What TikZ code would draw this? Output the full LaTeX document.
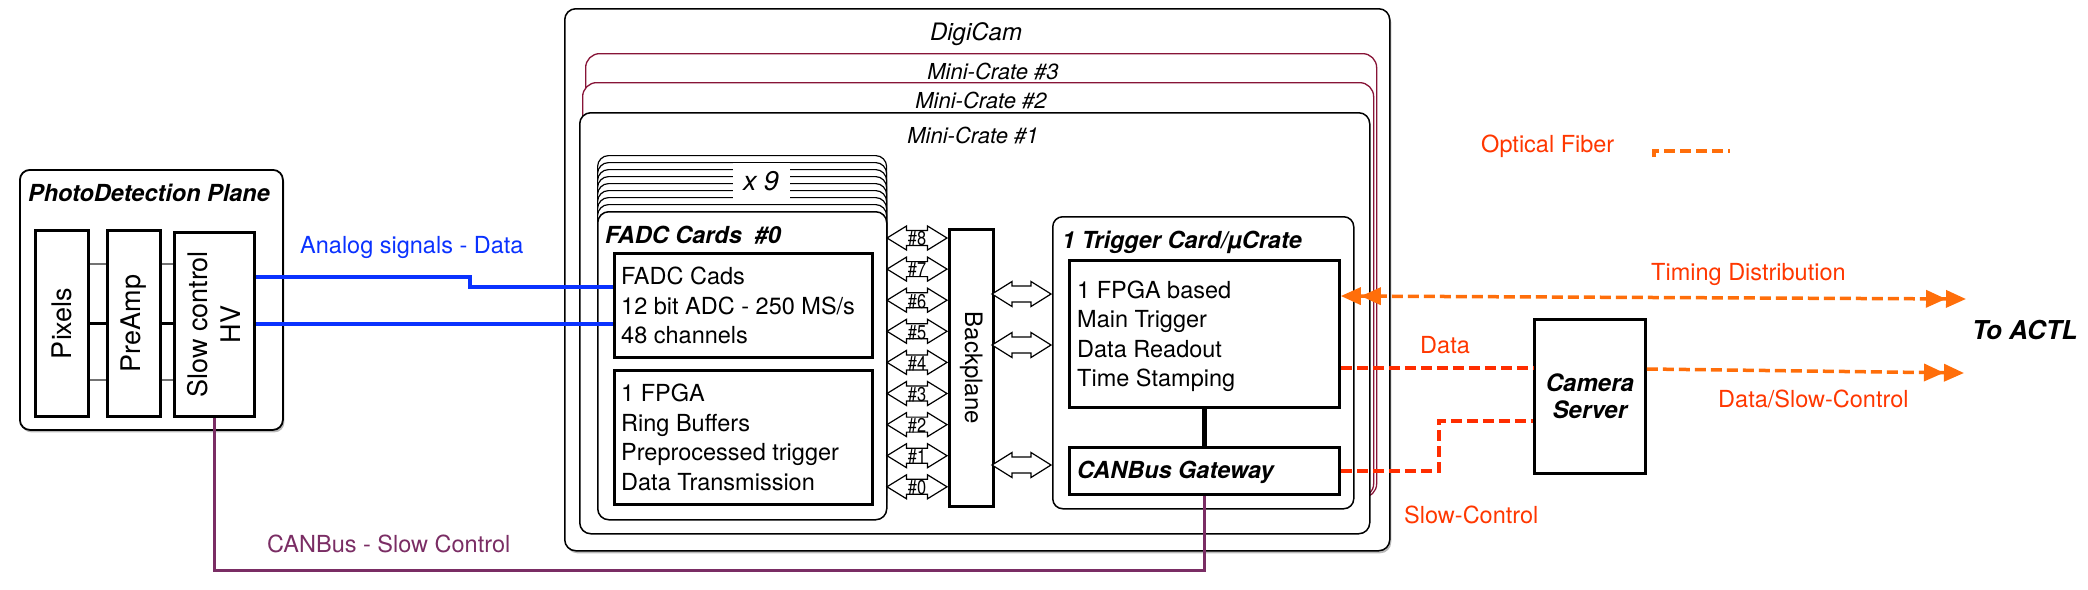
\documentclass[tikz,border=0pt]{standalone}
\usepackage{fontspec}
\setmainfont{TeX Gyre Heros}
\newfontfamily\narrowf{TeX Gyre Heros}[FakeStretch=0.82]
\usetikzlibrary{arrows.meta,shadows}
\definecolor{bluel}{RGB}{10,50,255}
\definecolor{plumc}{RGB}{122,45,100}
\definecolor{crateRed}{RGB}{135,20,55}
\definecolor{fibor}{RGB}{255,110,10}
\definecolor{fibred}{RGB}{255,45,0}
\definecolor{txtred}{RGB}{255,55,0}
\tikzset{dtri/.tip={Triangle[length=20pt,width=17pt,sep=0pt]Triangle[length=20pt,width=17pt]}}
\begin{document}
\begin{tikzpicture}[x=1pt,y=-1pt,
  every node/.style={inner sep=0pt},
  lbl/.style={font=\fontsize{23.5}{28}\selectfont, anchor=base west},
  bit/.style={font=\fontsize{23.5}{28}\selectfont\bfseries\itshape},
  itl/.style={font=\fontsize{22}{26}\selectfont\itshape, anchor=base},
  rbox/.style={draw, rounded corners=11pt, fill=white, line width=1.5pt, anchor=north west},
  ibox/.style={draw, line width=2.8pt, fill=white, anchor=north west},
  shad/.style={drop shadow={shadow xshift=1.5pt,shadow yshift=-2.5pt,opacity=.55}},
  fib/.style={line width=3.5pt, dash pattern=on 11pt off 5pt},
  sdbl/.pic={\draw[line width=1.2pt, fill=white, line join=miter]
     (-30,0) -- (-10.5,12) -- (-10.5,7.5) -- (10.5,7.5) -- (10.5,12) -- (30,0)
     -- (10.5,-12) -- (10.5,-7.5) -- (-10.5,-7.5) -- (-10.5,-12) -- cycle;},
  bdbl/.pic={\draw[line width=1.2pt, fill=white, line join=miter]
     (-29.5,0) -- (-9.5,12.5) -- (-9.5,8) -- (9.5,8) -- (9.5,12.5) -- (29.5,0)
     -- (9.5,-12.5) -- (9.5,-8) -- (-9.5,-8) -- (-9.5,-12.5) -- cycle;},
]
\useasboundingbox (0,0) rectangle (2088,589);

% DigiCam and mini-crates
\node[rbox, shad, minimum width=825pt, minimum height=542pt] (digicam) at (564,8) {};
\node[itl, font=\fontsize{24}{28}\selectfont\itshape] (digicamT) at (976,40.5) {DigiCam};
\node[rbox, draw=crateRed, line width=1.3pt, rounded corners=14pt, minimum width=791pt, minimum height=444pt] (mc3) at (585,53) {};
\node[itl] (mc3T) at (993,79) {Mini-Crate \#3};
\node[rbox, draw=crateRed, line width=1.3pt, rounded corners=14pt, minimum width=791pt, minimum height=415pt] (mc2) at (582,82) {};
\node[itl] (mc2T) at (981,108) {Mini-Crate \#2};
\node[rbox, minimum width=790pt, minimum height=421pt] (mc1) at (579,112) {};
\node[itl] (mc1T) at (973,143) {Mini-Crate \#1};

% FADC card stack
\foreach \k in {8,...,1}
  \node[rbox, line width=1.2pt, minimum width=289pt, minimum height=308pt] (card\k) at (597,{211-7*\k}) {};
\node[fill=white, minimum width=57pt, minimum height=37pt, font=\fontsize{27}{30}\selectfont\itshape] (x9) at (761,181) {x 9};
\node[rbox, minimum width=289pt, minimum height=308pt] (card0) at (597,211) {};
\node[bit, anchor=base west] (cardT) at (605,243.5) {FADC Cards~~\#0};
\node[ibox, minimum width=258pt, minimum height=104pt] (adc) at (613,252) {};
\node[ibox, minimum width=258pt, minimum height=134pt] (fpga) at (613,369) {};
\node[lbl] (adc0) at (621,284.5) {FADC Cads};
\node[lbl] (adc1) at (621,314) {12 bit ADC - 250 MS/s};
\node[lbl] (adc2) at (621,343.5) {48 channels};
\node[lbl] (fp0) at (621,401.5) {1 FPGA};
\node[lbl] (fp1) at (621,431.2) {Ring Buffers};
\node[lbl] (fp2) at (621,460.9) {Preprocessed trigger};
\node[lbl] (fp3) at (621,490.6) {Data Transmission};

% Backplane
\node[draw, line width=2.5pt, fill=white, anchor=north west, minimum width=44pt, minimum height=277pt] (bp) at (948,228) {};
\node[rotate=-90, font=\fontsize{24}{28}\selectfont] (bpT) at (bp.center) {Backplane};

% card links
\foreach \n in {0,...,8} {
  \pic at (917,{238+31.1*(8-\n)}) {sdbl};
  \node[font=\narrowf\fontsize{20}{22}\selectfont] (lk\n) at (917,{239+31.1*(8-\n)}) {\#\n};
}

% Trigger card
\node[rbox, rounded corners=10pt, minimum width=301pt, minimum height=292pt] (trig) at (1052,216) {};
\node[bit, anchor=base west] (trigT) at (1062,248.5) {1 Trigger Card/µCrate};
\node[ibox, minimum width=270pt, minimum height=147pt] (trigIn) at (1068,259) {};
\node[lbl] (tr0) at (1077,298.5) {1 FPGA based};
\node[lbl] (tr1) at (1077,327.8) {Main Trigger};
\node[lbl] (tr2) at (1077,357.1) {Data Readout};
\node[lbl] (tr3) at (1077,386.4) {Time Stamping};
\node[ibox, minimum width=270pt, minimum height=47pt] (gw) at (1068,446) {};
\node[bit, anchor=base west] (gwT) at (1077,478.5) {CANBus Gateway};
\draw[line width=5pt] (trigIn.south) -- (gw.north);
\foreach \yy in {294,345,465} \pic at (1021.5,\yy) {bdbl};

% PhotoDetection Plane
\node[rbox, shad, line width=1.8pt, rounded corners=10pt, minimum width=263pt, minimum height=260pt] (pdp) at (19,169) {};
\node[bit, anchor=base] (pdpT) at (149,201.5) {PhotoDetection Plane};
\node[ibox, minimum width=53pt, minimum height=186pt] (pix) at (34,229) {};
\node[ibox, minimum width=53pt, minimum height=186pt] (pre) at (106,229) {};
\node[ibox, minimum width=80pt, minimum height=184pt] (sc) at (173,231) {};
\node[rotate=90, font=\fontsize{27}{32}\selectfont] (pixT) at (pix.center) {Pixels};
\node[rotate=90, font=\fontsize{27}{32}\selectfont] (preT) at (pre.center) {PreAmp};
\node[rotate=90, align=center, font=\fontsize{27}{33}\selectfont] (scT) at (sc.center) {Slow control\\HV};
\coordinate (pa1) at ([yshift=-35pt]pix.north east);
\coordinate (pa3) at ([yshift=-151pt]pix.north east);
\coordinate (pb1) at ([yshift=-35pt]pre.north east);
\coordinate (pb3) at ([yshift=-151pt]pre.north east);
\draw[line width=1.2pt, black!55] (pa1) -- (pa1 -| pre.west);
\draw[line width=1.2pt, black!55] (pa3) -- (pa3 -| pre.west);
\draw[line width=2.2pt] (pix.east) -- (pre.west);
\draw[line width=1.2pt, black!55] (pb1) -- (pb1 -| sc.west);
\draw[line width=1.2pt, black!55] (pb3) -- (pb3 -| sc.west);
\draw[line width=2.2pt] (pre.east) -- (pre.east -| sc.west);

% Analog signals
\coordinate (bu1) at ([yshift=-46pt]sc.north east);
\coordinate (bu2) at ([yshift=-35pt]adc.north west);
\draw[bluel, line width=4pt] (bu1) -- ++(214,0) |- (bu2);
\draw[bluel, line width=4pt] (sc.east) -- (sc.east -| adc.west);
\node[lbl, text=bluel] (analogT) at (300,253.5) {Analog signals - Data};

% CANBus slow control
\draw[plumc, line width=3pt] (sc.south) -- ++(0,153) -| (gw.south);
\node[lbl, text=plumc] (canT) at (267,552.5) {CANBus - Slow Control};

% Camera server
\node[draw, line width=2.8pt, fill=white, anchor=north west, minimum width=111pt, minimum height=154pt] (srv) at (1533,318) {};
\node[align=center, font=\fontsize{24}{27}\selectfont\bfseries\itshape] (srvT) at (srv.center) {Camera\\Server};

% optical fibres
\coordinate (tA) at ([yshift=-37pt]trigIn.north east);
\coordinate (actlA) at (1966,299);
\draw[fib, fibor, dtri-dtri] (tA) -- (actlA);
\coordinate (tB) at ([yshift=-109pt]trigIn.north east);
\draw[fib, fibred] (tB) -- (tB -| srv.west);
\coordinate (sB) at ([yshift=-51pt]srv.north east);
\coordinate (actlB) at (1964,373);
\draw[fib, fibor, -dtri] (sB) -- (actlB);
\coordinate (sC) at ([yshift=-103pt]srv.north west);
\draw[fib, fibred] (gw.east) -- ++(98,0) |- (sC);

% legend
\coordinate (legA) at (1654,151);
\coordinate (legB) at (1730,151);
\draw[fib, fibor] ([yshift=-6pt]legA) -- (legA) -- (legB);

% labels
\node[lbl, text=txtred] (ofT) at (1481,152.5) {Optical Fiber};
\node[lbl, text=txtred] (tdT) at (1651,280.5) {Timing Distribution};
\node[lbl, text=txtred] (dT) at (1420,353.5) {Data};
\node[lbl, text=txtred] (dsT) at (1718,407.5) {Data/Slow-Control};
\node[lbl, text=txtred] (slT) at (1404,523.5) {Slow-Control};
\node[font=\fontsize{26}{30}\selectfont\bfseries\itshape, anchor=base west] (actlT) at (1972,339.5) {To ACTL};
\end{tikzpicture}
\end{document}
